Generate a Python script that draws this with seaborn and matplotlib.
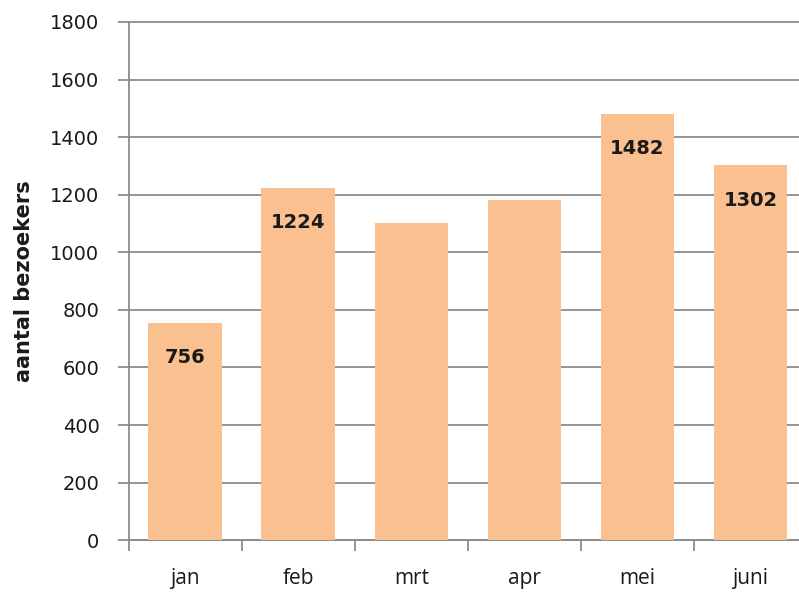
import numpy as np
import pandas as pd
from matplotlib import pyplot as plt
import seaborn as sns

months = ['jan', 'feb', 'mrt', 'apr', 'mei', 'juni']
visitors = [756, 1224, 1100, 1180, 1482, 1302]
# values of mrt/apr are hidden in the original, only these are printed
shown_labels = ['756', '1224', '', '', '1482', '1302']
yticks = [0, 200, 400, 600, 800, 1000, 1200, 1400, 1600, 1800]

sns.set_style('white')
plt.rcParams['font.family'] = ['DejaVu Sans']

df = pd.DataFrame({'maand': months, 'bezoekers': visitors})

fig = plt.figure(figsize=(7.99, 5.93), dpi=100)
ax = fig.add_axes([0.161, 0.089, 0.849, 0.874])

sns.barplot(data=df, x='maand', y='bezoekers', color='#FAC090', saturation=1,
            width=0.65, linewidth=0, ax=ax, zorder=3)

for p, lab in zip(ax.patches, shown_labels):
    if lab:
        ax.annotate(lab, (p.get_x() + p.get_width() / 2, p.get_height()),
                    xytext=(0, -25), textcoords='offset points',
                    ha='center', va='center', fontsize=14, fontweight='bold',
                    color='#1a1a1a', zorder=4)

ax.set_ylim(0, 1800)
ax.set_xlim(-0.5, 5.5)
ax.set_yticks(yticks)
ax.yaxis.grid(True, color='#8c8c8c', linewidth=1.3, zorder=0)
ax.set_axisbelow(True)
for gl in ax.get_ygridlines():
    gl.set_clip_on(False)

for s in ['top', 'right']:
    ax.spines[s].set_visible(False)
for s in ['left', 'bottom']:
    ax.spines[s].set_color('#8c8c8c')
    ax.spines[s].set_linewidth(1.3)

ax.tick_params(axis='y', which='major', length=8, width=1.3, color='#8c8c8c',
               labelsize=14, labelcolor='#1a1a1a', pad=13, left=True)
ax.set_xticks(range(len(months)))
ax.set_xticklabels(months, fontsize=15, color='#1a1a1a',
                   fontfamily=['Open Sans', 'DejaVu Sans'])
ax.set_xticks(np.arange(-0.5, 6, 1), minor=True)
ax.tick_params(axis='x', which='major', length=0, pad=20)
ax.tick_params(axis='x', which='minor', length=8, width=1.3, color='#8c8c8c',
               bottom=True)

ax.set_xlabel('')
ax.set_ylabel('aantal bezoekers', fontsize=15, fontweight='bold',
              color='#1a1a1a', labelpad=12)

fig.savefig('out.png', dpi=100)
